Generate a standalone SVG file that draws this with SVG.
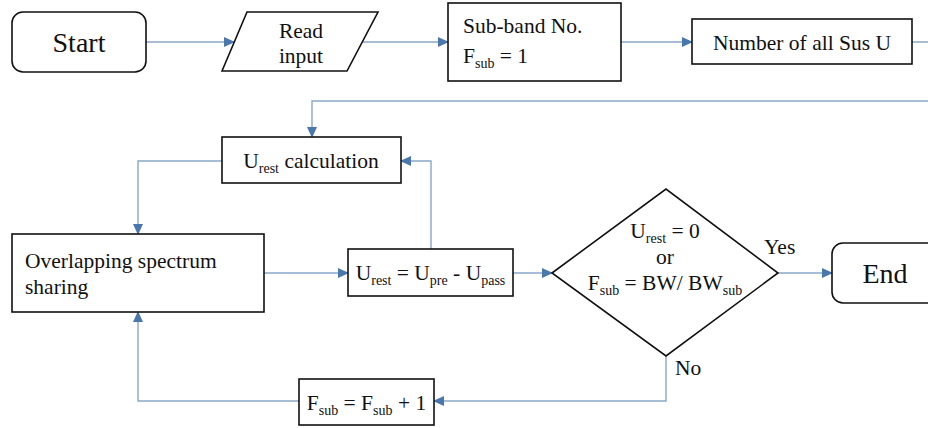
<svg xmlns="http://www.w3.org/2000/svg" width="928" height="428" viewBox="0 0 928 428">
<defs>
<marker id="a" markerUnits="userSpaceOnUse" markerWidth="12" markerHeight="10" refX="10" refY="5" orient="auto">
<path d="M0,0 L11,5 L0,10 Z" fill="#4a78ad"/>
</marker>
</defs>
<rect width="928" height="428" fill="#fff"/>
<g id="connectors" fill="none" stroke="#8aa6c8" stroke-width="1.4" marker-end="url(#a)">
<path d="M146 42 H234"/>
<path d="M362 42 H448"/>
<path d="M621 42 H692"/>
<path d="M912 42 H940 V101 H312 V137"/>
<path d="M222 161 H138 V234"/>
<path d="M264 273 H348"/>
<path d="M431 249 V161 H401"/>
<path d="M513 273 H552"/>
<path d="M778 273 H832"/>
<path d="M666 356 V401 H434"/>
<path d="M299 401 H138 V312"/>
</g>
<g id="nodes" font-family="Times New Roman, Liberation Serif, serif" font-size="21.5" fill="#111">
<g id="start">
<rect x="12" y="12" width="134" height="60" rx="11" fill="#fff" stroke="#111" stroke-width="1.6"/>
<text font-size="28" text-anchor="middle" x="79" y="52">Start</text>
</g>
<g id="read">
<polygon points="222,71 247,12 378,12 347,71" fill="#fff" stroke="#111" stroke-width="1.6"/>
<text text-anchor="middle" x="301" y="38">Read</text>
<text text-anchor="middle" x="301" y="63">input</text>
</g>
<g id="subband">
<rect x="448" y="3" width="173" height="78" fill="#fff" stroke="#111" stroke-width="1.6"/>
<text x="463" y="33">Sub-band No.</text>
<text x="463" y="63">F<tspan font-size="14" dy="5">sub</tspan><tspan dy="-5"> = 1</tspan></text>
</g>
<g id="number">
<rect x="692" y="19" width="220" height="45" fill="#fff" stroke="#111" stroke-width="1.6"/>
<text text-anchor="middle" x="802" y="50">Number of all Sus U</text>
</g>
<g id="calc">
<rect x="222" y="137" width="179" height="46" fill="#fff" stroke="#111" stroke-width="1.6"/>
<text text-anchor="middle" x="311" y="168">U<tspan font-size="14" dy="5">rest</tspan><tspan dy="-5"> calculation</tspan></text>
</g>
<g id="overlap">
<rect x="12" y="234" width="252" height="78" fill="#fff" stroke="#111" stroke-width="1.6"/>
<text x="25" y="268">Overlapping spectrum</text>
<text x="25" y="294">sharing</text>
</g>
<g id="urest">
<rect x="348" y="249" width="165" height="47" fill="#fff" stroke="#111" stroke-width="1.6"/>
<text text-anchor="middle" x="430.5" y="280">U<tspan font-size="14" dy="5">rest</tspan><tspan dy="-5"> = U</tspan><tspan font-size="14" dy="5">pre</tspan><tspan dy="-5"> - U</tspan><tspan font-size="14" dy="5">pass</tspan></text>
</g>
<g id="decision">
<polygon points="552,273 666,189 778,273 666,356" fill="#fff" stroke="#111" stroke-width="1.6"/>
<text text-anchor="middle" x="665" y="238">U<tspan font-size="14" dy="5">rest</tspan><tspan dy="-5"> = 0</tspan></text>
<text text-anchor="middle" x="665" y="264">or</text>
<text text-anchor="middle" x="665" y="290">F<tspan font-size="14" dy="5">sub</tspan><tspan dy="-5"> = BW/ BW</tspan><tspan font-size="14" dy="5">sub</tspan></text>
<text x="764" y="254">Yes</text>
<text x="675" y="375">No</text>
</g>
<g id="end">
<rect x="832" y="243" width="110" height="60" rx="11" fill="#fff" stroke="#111" stroke-width="1.6"/>
<text font-size="28" text-anchor="middle" x="885" y="283">End</text>
</g>
<g id="fsub">
<rect x="299" y="379" width="135" height="46" fill="#fff" stroke="#111" stroke-width="1.6"/>
<text text-anchor="middle" x="366.5" y="410">F<tspan font-size="14" dy="5">sub</tspan><tspan dy="-5"> = F</tspan><tspan font-size="14" dy="5">sub</tspan><tspan dy="-5"> + 1</tspan></text>
</g>
</g>
</svg>
